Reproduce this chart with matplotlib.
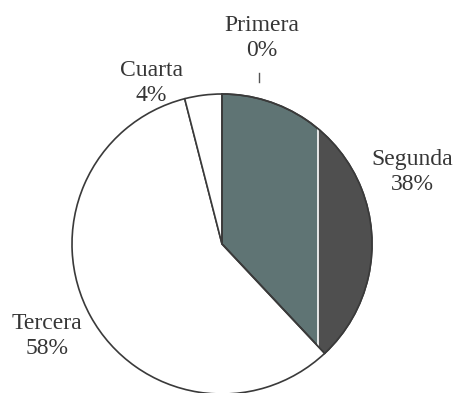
import matplotlib
matplotlib.use("Agg")
import matplotlib.pyplot as plt
from matplotlib.patches import Rectangle, PathPatch

# Distribution by category
categories = ["Primera", "Segunda", "Tercera", "Cuarta"]
percentages = [0, 38, 58, 4]

# Styling / layout
wedge_colors = ["#ffffff", "#5f7474", "#ffffff", "#ffffff"]
edge_color = "#3a3a3a"
text_color = "#363636"
label_pos = {                      # label block centres, in units of the radius
    "Primera": (0.267, 1.373),
    "Cuarta": (-0.473, 1.073),
    "Segunda": (1.267, 0.48),
    "Tercera": (-1.167, -0.613),
}

W, H, DPI = 456, 393, 100
cx, cy, R = 222, 244, 150           # pie centre and radius in pixels

fig = plt.figure(figsize=(W / DPI, H / DPI), dpi=DPI)
ax = fig.add_axes([0, 0, 1, 1])

wedges, _ = ax.pie(
    percentages,
    colors=wedge_colors,
    startangle=90,
    counterclock=False,
    radius=1.0,
    center=(0, 0),
    wedgeprops=dict(edgecolor=edge_color, linewidth=1.2),
)
ax.set_aspect("equal")
ax.set_xlim(-cx / R, (W - cx) / R)
ax.set_ylim(-(H - cy) / R, cy / R)
ax.axis("off")

# Darker shading on the outer part of the second wedge, split by a thin white line
seg = wedges[categories.index("Segunda")]
z = seg.get_zorder()
split_x = 0.64
shade = Rectangle((split_x, -1.2), 1.0, 2.4, facecolor="#4f4f4f", edgecolor="none", zorder=z + 0.1)
ax.add_patch(shade)
shade.set_clip_path(seg)
sep, = ax.plot([split_x, split_x], [-1.2, 1.2], color="white", lw=1.2, zorder=z + 0.2)
sep.set_clip_path(seg)
# wedge outline on top of the shading
outline = PathPatch(seg.get_path(), fill=False, edgecolor=edge_color, linewidth=1.2, zorder=z + 0.3)
outline.set_transform(seg.get_transform())
ax.add_patch(outline)

for name, pct in zip(categories, percentages):
    x, y = label_pos[name]
    ax.text(x, y, f"{name}\n{pct}%", ha="center", va="center", fontsize=17,
            family="Liberation Serif", color=text_color, linespacing=1.25, zorder=10)

# small leader tick for the zero-size wedge
lx = label_pos["Primera"][0] - 0.02
ax.plot([lx, lx], [1.08, 1.14], color="#555555", lw=1.0)

fig.savefig("out.png", dpi=DPI)
